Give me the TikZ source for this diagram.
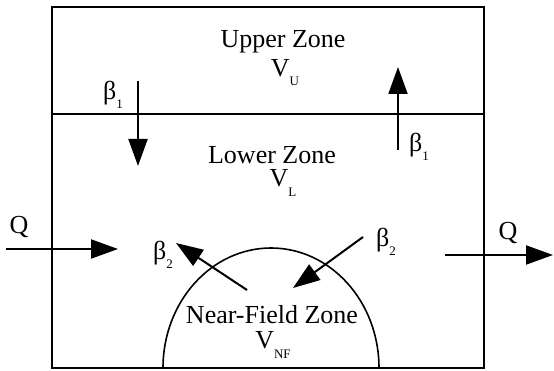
\documentclass[tikz,border=0pt]{standalone}
\usepackage{fontspec}
\setmainfont{Liberation Serif}
\usetikzlibrary{arrows.meta}
\newcommand{\mysub}[1]{\raisebox{-0.35em}{\fontsize{13}{13}\selectfont #1}}
\begin{document}
\begin{tikzpicture}[x=1pt,y=1pt,
  lbl/.style={font=\fontsize{26}{28}\selectfont, inner sep=0pt},
  flow/.style={line width=2pt, -{Triangle[length=27pt,width=19pt]}},
  wall/.style={line width=2pt}]
\useasboundingbox (0,0) rectangle (554,370);
% box and divider
\draw[wall] (52,2) rectangle (484,363);
\coordinate (dl) at (52,256);
\coordinate (dr) at (484,256);
\draw[line width=2.5pt] (dl) -- (dr);
% near-field semicircle
\draw[line width=1.6pt] (163,2) arc[start angle=180,end angle=0,x radius=108pt,y radius=120pt];
% zone labels
\node[lbl] (up) at (283,328) {Upper Zone};
\node[lbl] (vu) at (285,297) {V\mysub{U}};
\node[lbl] (lo) at (272,215) {Lower Zone};
\node[lbl] (vl) at (283,187) {V\mysub{L}};
\node[lbl] (nf) at (272,55) {Near-Field Zone};
\node[lbl] (vnf) at (273,25) {V\mysub{NF}};
% beta1 arrows
\coordinate (b1a) at (138,289);
\coordinate (b1b) at (138,204);
\draw[flow] (b1a) -- (b1b);
\node[lbl] (b1l) at (113,275) {β\mysub{1}};
\coordinate (b1c) at (398,220);
\coordinate (b1d) at (398,303);
\draw[flow] (b1c) -- (b1d);
\node[lbl] (b1r) at (419,223) {β\mysub{1}};
% Q arrows
\coordinate (qla) at (6,121);
\coordinate (qlb) at (118,121);
\draw[flow] (qla) -- (qlb);
\node[lbl] (ql) at (19,143) {Q};
\coordinate (qra) at (445,115);
\coordinate (qrb) at (553,115);
\draw[flow] (qra) -- (qrb);
\node[lbl] (qr) at (508,137) {Q};
% beta2 arrows
\coordinate (b2a) at (247,80);
\coordinate (b2b) at (176,127);
\draw[flow] (b2a) -- (b2b);
\node[lbl] (b2l) at (163,115) {β\mysub{2}};
\coordinate (b2c) at (363,133);
\coordinate (b2d) at (293,82);
\draw[flow] (b2c) -- (b2d);
\node[lbl] (b2r) at (386,128) {β\mysub{2}};
\end{tikzpicture}
\end{document}
